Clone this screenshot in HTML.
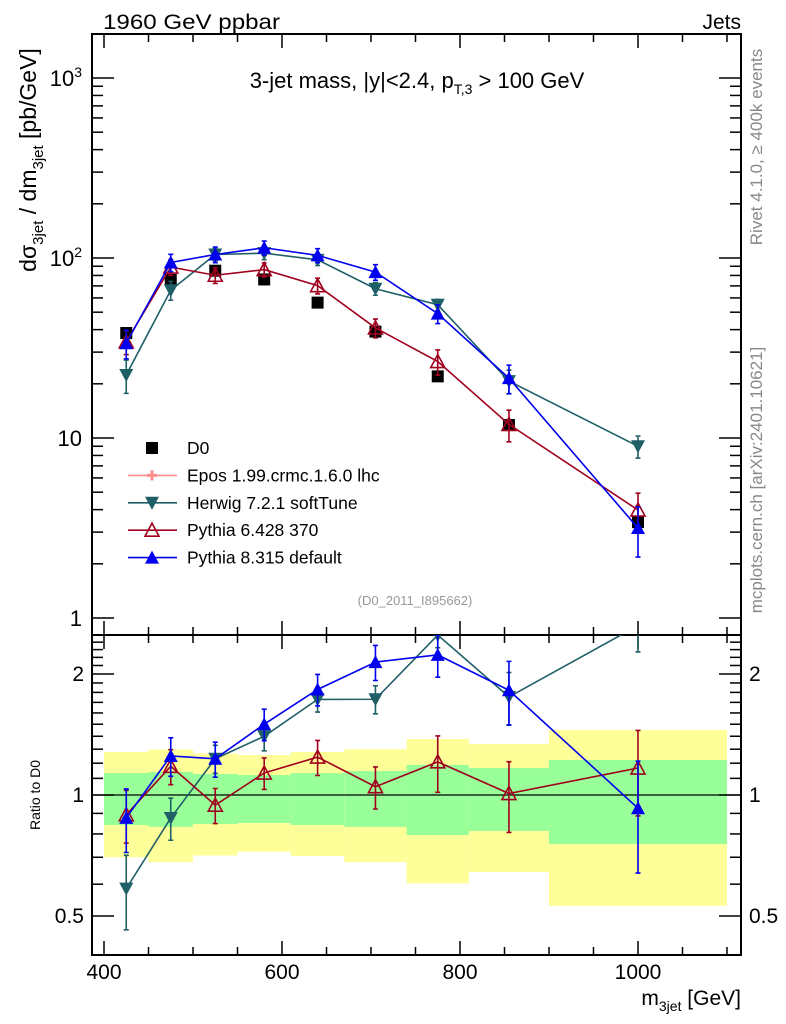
<!DOCTYPE html>
<html><head><meta charset="utf-8"><style>
html,body{margin:0;padding:0;background:#fff}
svg{display:block;font-family:"Liberation Sans",sans-serif}
</style></head><body>
<svg id="c" width="786" height="1024" viewBox="0 0 786 1024">
<defs>
<clipPath id="clipMain"><rect x="92" y="34" width="649" height="601"/></clipPath>
<clipPath id="clipRatio"><rect x="92" y="635" width="649" height="320"/></clipPath>
</defs>
<g id="bands" clip-path="url(#clipRatio)"></g>
<g id="axes"></g>
<g id="mainG" clip-path="url(#clipMain)"></g>
<g id="ratioG" clip-path="url(#clipRatio)"></g>
<text x="103" y="29" font-size="21" textLength="177" lengthAdjust="spacingAndGlyphs">1960 GeV ppbar</text>
<text x="741" y="29" font-size="21" text-anchor="end">Jets</text>
<text x="417" y="88" font-size="22" text-anchor="middle">3-jet mass, |y|&lt;2.4, p<tspan font-size="14" dy="6">T,3</tspan><tspan dy="-6"> &gt; 100 GeV</tspan></text>
<text x="415" y="605" font-size="13" fill="#999" text-anchor="middle">(D0_2011_I895662)</text>
<text transform="translate(762,147) rotate(-90)" font-size="17" fill="#888" text-anchor="middle">Rivet 4.1.0, ≥ 400k events</text>
<text transform="translate(762,480) rotate(-90)" font-size="17" fill="#888" text-anchor="middle">mcplots.cern.ch [arXiv:2401.10621]</text>
<text transform="translate(36,160) rotate(-90)" font-size="23" text-anchor="middle">dσ<tspan font-size="15" dy="7">3jet</tspan><tspan dy="-7"> / dm</tspan><tspan font-size="15" dy="7">3jet</tspan><tspan dy="-7"> [pb/GeV]</tspan></text>
<text transform="translate(40,795) rotate(-90)" font-size="14" text-anchor="middle">Ratio to D0</text>
<text x="741" y="1005" font-size="21" text-anchor="end">m<tspan font-size="14" dy="6">3jet</tspan><tspan dy="-6"> [GeV]</tspan></text>
<g id="legend"></g>
</svg>
<script>
const binEdges=[400,450,500,550,610,670,740,810,900,1100];
const xCenters=[425,475,525,580,640,705,775,855,1000];
const d0Vals=[38.3,75.5,85,76,56.5,39,22,11.8,3.41];
const bandStatHi=[1.134,1.141,1.128,1.121,1.134,1.147,1.188,1.167,1.222];
const bandStatLo=[0.842,0.833,0.847,0.852,0.842,0.833,0.795,0.814,0.755];
const bandTotHi=[1.28,1.297,1.268,1.257,1.28,1.30,1.378,1.339,1.451];
const bandTotLo=[0.70,0.681,0.707,0.723,0.705,0.681,0.603,0.643,0.530];
const herwigVals=[22.4,66.2,104.6,106.4,97.7,67.5,55,20.7,9.0];
const herwigErr=[0.21,0.12,0.08,0.08,0.07,0.08,0.07,0.15,0.14];
const py6Vals=[34.2,89,80.2,86.2,70.2,40.9,26.6,11.9,3.98];
const py6Err=[0.15,0.10,0.10,0.09,0.10,0.12,0.16,0.20,0.24];
const py8Vals=[33.6,94.4,104.6,114,103.4,83.5,49.1,21.5,3.16];
const py8Err=[0.18,0.11,0.10,0.09,0.09,0.10,0.12,0.18,0.31];
const xTickLabels=["400","600","800","1000"];
const yTickLabels=["1","10","10²","10³"];
const ratioTickLabels=["0.5","1","2"];

const NS="http://www.w3.org/2000/svg";
function X(v){return 104+(v-400)*0.89;}
function Y(v){return 618-180*Math.log10(v);}
function R(v){return 795-121*Math.log2(v);}
function mk(tag,attrs,parent){const e=document.createElementNS(NS,tag);for(const k in attrs)e.setAttribute(k,attrs[k]);parent.appendChild(e);return e;}
const axes=document.getElementById('axes');
const bands=document.getElementById('bands');
const mainG=document.getElementById('mainG');
const ratioG=document.getElementById('ratioG');
const legend=document.getElementById('legend');

for(let i=0;i<binEdges.length-1;i++){
 const x0=X(binEdges[i]),x1=X(binEdges[i+1]);
 let r=mk('rect',{x:x0,y:R(bandTotHi[i]),width:x1-x0,height:R(bandTotLo[i])-R(bandTotHi[i]),fill:'#ffff99'},bands);
 
 
 r=mk('rect',{x:x0,y:R(bandStatHi[i]),width:x1-x0,height:R(bandStatLo[i])-R(bandStatHi[i]),fill:'#99ff99'},bands);
 
 
}
let ln=mk('line',{x1:92,x2:741,y1:R(1),y2:R(1),stroke:'#000','stroke-width':1.3},bands);



let f=mk('rect',{x:92,y:34,width:649,height:601,fill:'none',stroke:'#000','stroke-width':2},axes);


f=mk('rect',{x:92,y:635,width:649,height:320,fill:'none',stroke:'#000','stroke-width':2},axes);



for(let v=400;v<=1100;v+=50){
 const x=X(v),maj=(v%200===0);const L=maj?14:8;
 [[34,34+L],[635,635-L],[635,635+L],[955,955-L]].forEach(p=>{mk('line',{x1:x,x2:x,y1:p[0],y2:p[1],stroke:'#000','stroke-width':1.5},axes);});
}
xTickLabels.forEach(s=>{const t=mk('text',{x:X(+s),y:979,'font-size':21,'text-anchor':'middle'},axes);t.textContent=s;
 
 });
for(let d=0;d<4;d++){for(let m=1;m<10;m++){const v=m*Math.pow(10,d);const y=Y(v);if(y<34||y>635)continue;const L=m===1?22:11;
 mk('line',{x1:92,x2:92+L,y1:y,y2:y,stroke:'#000','stroke-width':1.5},axes);
 mk('line',{x1:741,x2:741-L,y1:y,y2:y,stroke:'#000','stroke-width':1.5},axes);}}
yTickLabels.forEach((s,i)=>{const t=mk('text',{x:82,y:Y(Math.pow(10,i))+8,'font-size':22,'text-anchor':'end'},axes);
 if(i>=2){t.textContent='10';const ts=mk('tspan',{'font-size':14,dy:-9},t);ts.textContent=String(i);}else t.textContent=s;
 
 });
for(let k=5;k<=25;k++){const v=k/10;const y=R(v);const maj=(k===5||k===10||k===20);const L=maj?22:11;
 mk('line',{x1:92,x2:92+L,y1:y,y2:y,stroke:'#000','stroke-width':1.5},axes);
 mk('line',{x1:741,x2:741-L,y1:y,y2:y,stroke:'#000','stroke-width':1.5},axes);}
ratioTickLabels.forEach(s=>{const y=R(+s)+7;
 let t=mk('text',{x:84,y:y,'font-size':21,'text-anchor':'end'},axes);t.textContent=s;
 
 
 t=mk('text',{x:749,y:y,'font-size':21},axes);t.textContent=s;
 
 });

function marker(type,x,y,color,parent){
 let e;
 if(type==='square')e=mk('rect',{x:x-6,y:y-6,width:12,height:12,fill:'#000'},parent);
 else if(type==='down')e=mk('polygon',{points:`${x-7},${y-6} ${x+7},${y-6} ${x},${y+7}`,fill:color},parent);
 else if(type==='up')e=mk('polygon',{points:`${x-7},${y+6} ${x+7},${y+6} ${x},${y-7}`,fill:color},parent);
 else if(type==='upopen')e=mk('polygon',{points:`${x-7},${y+6} ${x+7},${y+6} ${x},${y-7}`,fill:'none',stroke:color,'stroke-width':1.6},parent);
 else if(type==='cross'){e=mk('path',{d:`M${x-5},${y}H${x+5}M${x},${y-5}V${y+5}`,stroke:color,'stroke-width':3},parent);}
 return e;
}
const series=[
 {name:'herwig',vals:herwigVals,err:herwigErr,color:'#1f5f66',m:'down'},
 {name:'pythia6',vals:py6Vals,err:py6Err,color:'#a0001e',m:'upopen'},
 {name:'pythia8',vals:py8Vals,err:py8Err,color:'#0000ee',m:'up'}
];
d0Vals.forEach((v,i)=>{const e=marker('square',X(xCenters[i]),Y(v),'#000',mainG);
 
 });
series.forEach(s=>{
 [[mainG,v=>Y(v),(v,i)=>v],[ratioG,v=>R(v),(v,i)=>v/d0Vals[i]]].forEach(([g,F,tr])=>{
  const pts=s.vals.map((v,i)=>X(xCenters[i])+','+F(tr(v,i))).join(' ');
  const pl=mk('polyline',{points:pts,fill:'none',stroke:s.color,'stroke-width':1.6},g);
  
  
  s.vals.forEach((v,i)=>{const x=X(xCenters[i]);const c=tr(v,i);
   const y1=F(c*(1+s.err[i])),y2=F(c*(1-s.err[i]));
   const eb=mk('path',{d:`M${x},${y1}V${y2}M${x-2.5},${y1}H${x+2.5}M${x-2.5},${y2}H${x+2.5}`,stroke:s.color,'stroke-width':1.6,fill:'none'},g);
   
   
   const e=marker(s.m,x,F(c),s.color,g);
   
   });
 });
});
const legItems=[['D0','square','#000',false],['Epos 1.99.crmc.1.6.0 lhc','cross','#ff8c8c',true],['Herwig 7.2.1 softTune','down','#1f5f66',true],['Pythia 6.428 370','upopen','#a0001e',true],['Pythia 8.315 default','up','#0000ee',true]];
legItems.forEach((it,i)=>{const y=448+i*27.4;
 const g=mk('g',{},legend);
 
 
 if(it[3])mk('line',{x1:128,x2:177,y1:y,y2:y,stroke:it[2],'stroke-width':1.6},g);
 marker(it[1],152,y,it[2],g);
 const t=mk('text',{x:187,y:y+6,'font-size':17.5},g);t.textContent=it[0];});
</script>
</body></html>
